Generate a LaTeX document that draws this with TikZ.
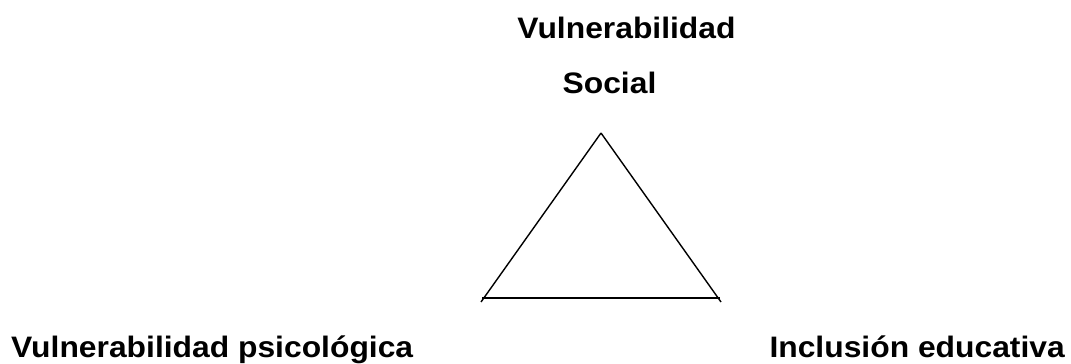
\documentclass[tikz,border=0pt]{standalone}
\usepackage{fontspec}
\usepackage{graphicx}
\setmainfont{Liberation Sans}
\newcommand{\wide}[1]{\scalebox{1.075}[1]{#1}}
\begin{document}
\begin{tikzpicture}[x=1pt,y=-1pt,
  lbl/.style={inner sep=0pt,anchor=base,font=\bfseries\fontsize{29.6}{35}\selectfont},
  edge/.style={line width=1.4pt,black}]
\useasboundingbox (0,0) rectangle (1071,364);
\node[lbl] (t1) at (626.5,38) {\wide{Vulnerabilidad}};
\node[lbl] (t2) at (609.5,93) {\wide{Social}};
\node[lbl,anchor=base west] (bl) at (11,357) {\wide{Vulnerabilidad psicológica}};
\node[lbl,anchor=base east] (br) at (1065,357) {\wide{Inclusión educativa}};
\coordinate (apex) at (601,133);
\coordinate (lend) at (481,302);
\coordinate (rend) at (721,302);
\coordinate (b1) at (482,298);
\coordinate (b2) at (720,298);
\draw[edge] (apex) -- (lend);
\draw[edge] (apex) -- (rend);
\draw[edge] (b1) -- (b2);
\end{tikzpicture}
\end{document}
